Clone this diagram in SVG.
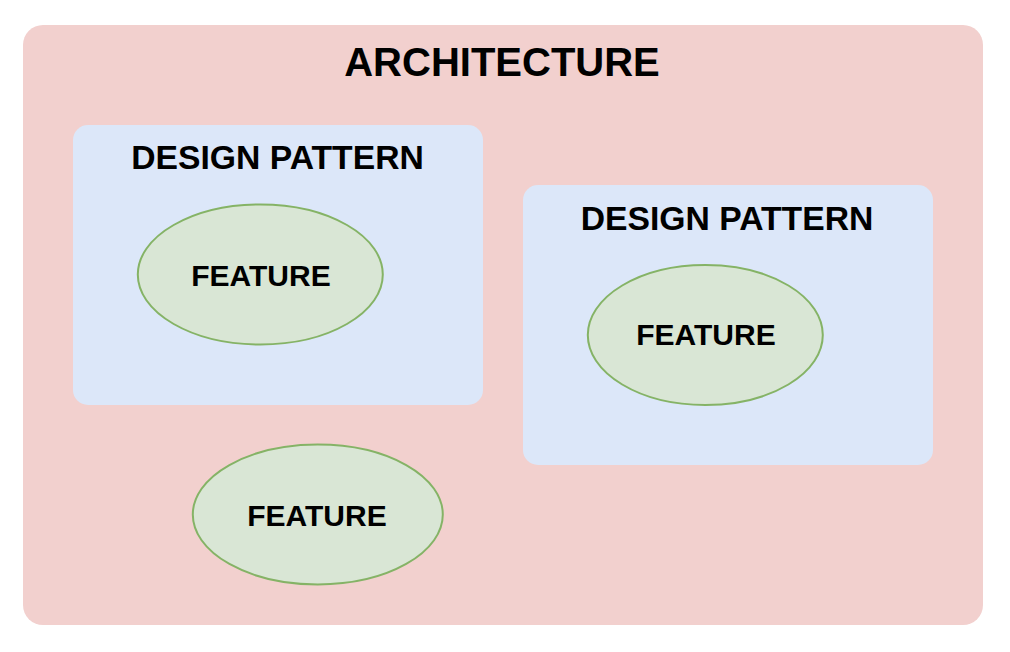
<svg xmlns="http://www.w3.org/2000/svg" width="1010" height="652" viewBox="0 0 1010 652">
<style>
text{font-family:"Liberation Sans",Arial,Helvetica,sans-serif;font-weight:bold;fill:#000;text-anchor:middle}
.arch{fill:#F2D0CE}
.dp{fill:#DCE7F9}
.feat{fill:#D9E6D5;stroke:#85B366;stroke-width:2}
.t1{font-size:40px}
.t2{font-size:33.7px}
.t3{font-size:30px}
</style>
<rect width="1010" height="652" fill="#fff"/>
<g id="architecture">
<rect class="arch" x="23" y="25" width="960" height="600" rx="20" ry="20"/>
<text class="t1" x="502" y="76">ARCHITECTURE</text>
</g>
<g id="design-pattern-1">
<rect class="dp" x="73" y="125" width="410" height="280" rx="15" ry="15"/>
<text class="t2" x="277.5" y="169">DESIGN PATTERN</text>
</g>
<g id="design-pattern-2">
<rect class="dp" x="523" y="185" width="410" height="280" rx="15" ry="15"/>
<text class="t2" x="727" y="229.5">DESIGN PATTERN</text>
</g>
<g id="feature-1">
<ellipse class="feat" cx="260.3" cy="274.5" rx="122.5" ry="70"/>
<text class="t3" x="261" y="285.5">FEATURE</text>
</g>
<g id="feature-2">
<ellipse class="feat" cx="705.3" cy="335" rx="117.5" ry="70"/>
<text class="t3" x="706" y="345">FEATURE</text>
</g>
<g id="feature-3">
<ellipse class="feat" cx="317.8" cy="514.5" rx="125" ry="70"/>
<text class="t3" x="317" y="525.5">FEATURE</text>
</g>
<g id="connectors"/>
</svg>
